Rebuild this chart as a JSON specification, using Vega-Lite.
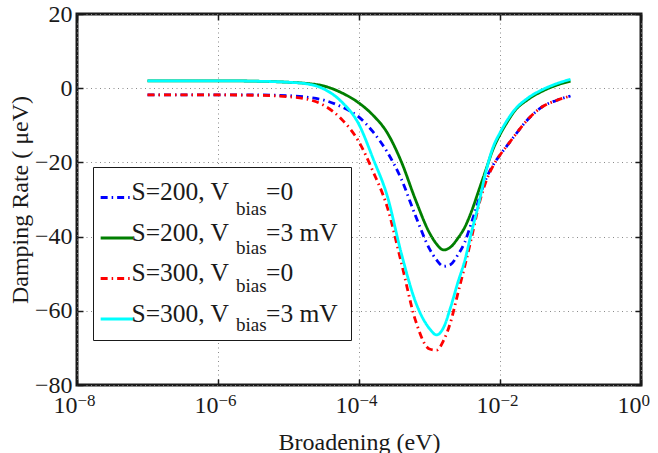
{
  "$schema": "https://vega.github.io/schema/vega-lite/v6.json",
  "width": 564,
  "height": 371,
  "autosize": {"type": "none"},
  "padding": {"left": 77, "top": 14, "right": 17, "bottom": 68},
  "background": "white",
  "data": {
    "values": [
      {"s": "S=200, Vbias=0", "x": 1e-7, "y": -1.8},
      {"s": "S=200, Vbias=0", "x": 3.162e-7, "y": -1.8},
      {"s": "S=200, Vbias=0", "x": 1e-6, "y": -1.8},
      {"s": "S=200, Vbias=0", "x": 3.162e-6, "y": -1.8},
      {"s": "S=200, Vbias=0", "x": 1e-5, "y": -2.0},
      {"s": "S=200, Vbias=0", "x": 1.778e-5, "y": -2.4},
      {"s": "S=200, Vbias=0", "x": 3.162e-5, "y": -3.2},
      {"s": "S=200, Vbias=0", "x": 5.623e-5, "y": -5.0},
      {"s": "S=200, Vbias=0", "x": 1e-4, "y": -7.8},
      {"s": "S=200, Vbias=0", "x": 1.585e-4, "y": -11.8},
      {"s": "S=200, Vbias=0", "x": 2.512e-4, "y": -17.2},
      {"s": "S=200, Vbias=0", "x": 3.981e-4, "y": -24.5},
      {"s": "S=200, Vbias=0", "x": 6.31e-4, "y": -34.3},
      {"s": "S=200, Vbias=0", "x": 1e-3, "y": -43.3},
      {"s": "S=200, Vbias=0", "x": 1.259e-3, "y": -46.3},
      {"s": "S=200, Vbias=0", "x": 1.585e-3, "y": -48.0},
      {"s": "S=200, Vbias=0", "x": 1.995e-3, "y": -47.5},
      {"s": "S=200, Vbias=0", "x": 2.512e-3, "y": -45.0},
      {"s": "S=200, Vbias=0", "x": 3.162e-3, "y": -41.5},
      {"s": "S=200, Vbias=0", "x": 3.981e-3, "y": -36.0},
      {"s": "S=200, Vbias=0", "x": 5.012e-3, "y": -30.0},
      {"s": "S=200, Vbias=0", "x": 6.31e-3, "y": -24.5},
      {"s": "S=200, Vbias=0", "x": 7.943e-3, "y": -20.8},
      {"s": "S=200, Vbias=0", "x": 1e-2, "y": -18.0},
      {"s": "S=200, Vbias=0", "x": 1.259e-2, "y": -15.5},
      {"s": "S=200, Vbias=0", "x": 1.585e-2, "y": -13.0},
      {"s": "S=200, Vbias=0", "x": 2.512e-2, "y": -8.3},
      {"s": "S=200, Vbias=0", "x": 3.981e-2, "y": -5.0},
      {"s": "S=200, Vbias=0", "x": 6.31e-2, "y": -3.3},
      {"s": "S=200, Vbias=0", "x": 0.1, "y": -2.1},

      {"s": "S=200, Vbias=3 mV", "x": 1e-7, "y": 2.0},
      {"s": "S=200, Vbias=3 mV", "x": 3.162e-7, "y": 2.0},
      {"s": "S=200, Vbias=3 mV", "x": 1e-6, "y": 2.0},
      {"s": "S=200, Vbias=3 mV", "x": 3.162e-6, "y": 1.9},
      {"s": "S=200, Vbias=3 mV", "x": 1e-5, "y": 1.6},
      {"s": "S=200, Vbias=3 mV", "x": 1.778e-5, "y": 1.3},
      {"s": "S=200, Vbias=3 mV", "x": 3.162e-5, "y": 0.6},
      {"s": "S=200, Vbias=3 mV", "x": 5.623e-5, "y": -1.2},
      {"s": "S=200, Vbias=3 mV", "x": 1e-4, "y": -4.0},
      {"s": "S=200, Vbias=3 mV", "x": 1.585e-4, "y": -7.3},
      {"s": "S=200, Vbias=3 mV", "x": 2.512e-4, "y": -12.0},
      {"s": "S=200, Vbias=3 mV", "x": 3.981e-4, "y": -19.8},
      {"s": "S=200, Vbias=3 mV", "x": 6.31e-4, "y": -30.0},
      {"s": "S=200, Vbias=3 mV", "x": 1e-3, "y": -39.0},
      {"s": "S=200, Vbias=3 mV", "x": 1.259e-3, "y": -42.0},
      {"s": "S=200, Vbias=3 mV", "x": 1.585e-3, "y": -43.6},
      {"s": "S=200, Vbias=3 mV", "x": 1.995e-3, "y": -42.8},
      {"s": "S=200, Vbias=3 mV", "x": 2.512e-3, "y": -40.5},
      {"s": "S=200, Vbias=3 mV", "x": 3.162e-3, "y": -37.5},
      {"s": "S=200, Vbias=3 mV", "x": 3.981e-3, "y": -33.0},
      {"s": "S=200, Vbias=3 mV", "x": 5.012e-3, "y": -27.5},
      {"s": "S=200, Vbias=3 mV", "x": 6.31e-3, "y": -22.0},
      {"s": "S=200, Vbias=3 mV", "x": 7.943e-3, "y": -16.5},
      {"s": "S=200, Vbias=3 mV", "x": 1e-2, "y": -12.5},
      {"s": "S=200, Vbias=3 mV", "x": 1.259e-2, "y": -9.2},
      {"s": "S=200, Vbias=3 mV", "x": 1.585e-2, "y": -6.3},
      {"s": "S=200, Vbias=3 mV", "x": 2.512e-2, "y": -3.0},
      {"s": "S=200, Vbias=3 mV", "x": 3.981e-2, "y": -0.8},
      {"s": "S=200, Vbias=3 mV", "x": 6.31e-2, "y": 0.8},
      {"s": "S=200, Vbias=3 mV", "x": 0.1, "y": 1.9},

      {"s": "S=300, Vbias=0", "x": 1e-7, "y": -1.8},
      {"s": "S=300, Vbias=0", "x": 3.162e-7, "y": -1.8},
      {"s": "S=300, Vbias=0", "x": 1e-6, "y": -1.8},
      {"s": "S=300, Vbias=0", "x": 3.162e-6, "y": -1.9},
      {"s": "S=300, Vbias=0", "x": 1e-5, "y": -2.3},
      {"s": "S=300, Vbias=0", "x": 1.778e-5, "y": -2.9},
      {"s": "S=300, Vbias=0", "x": 3.162e-5, "y": -4.6},
      {"s": "S=300, Vbias=0", "x": 5.623e-5, "y": -8.3},
      {"s": "S=300, Vbias=0", "x": 1e-4, "y": -14.5},
      {"s": "S=300, Vbias=0", "x": 1.585e-4, "y": -22.5},
      {"s": "S=300, Vbias=0", "x": 2.512e-4, "y": -32.0},
      {"s": "S=300, Vbias=0", "x": 3.981e-4, "y": -47.0},
      {"s": "S=300, Vbias=0", "x": 6.31e-4, "y": -62.5},
      {"s": "S=300, Vbias=0", "x": 1e-3, "y": -70.3},
      {"s": "S=300, Vbias=0", "x": 1.259e-3, "y": -70.6},
      {"s": "S=300, Vbias=0", "x": 1.585e-3, "y": -68.0},
      {"s": "S=300, Vbias=0", "x": 1.995e-3, "y": -63.0},
      {"s": "S=300, Vbias=0", "x": 2.512e-3, "y": -55.5},
      {"s": "S=300, Vbias=0", "x": 3.162e-3, "y": -48.0},
      {"s": "S=300, Vbias=0", "x": 3.981e-3, "y": -40.0},
      {"s": "S=300, Vbias=0", "x": 5.012e-3, "y": -31.5},
      {"s": "S=300, Vbias=0", "x": 6.31e-3, "y": -25.2},
      {"s": "S=300, Vbias=0", "x": 7.943e-3, "y": -21.0},
      {"s": "S=300, Vbias=0", "x": 1e-2, "y": -18.0},
      {"s": "S=300, Vbias=0", "x": 1.259e-2, "y": -15.5},
      {"s": "S=300, Vbias=0", "x": 1.585e-2, "y": -13.0},
      {"s": "S=300, Vbias=0", "x": 2.512e-2, "y": -8.3},
      {"s": "S=300, Vbias=0", "x": 3.981e-2, "y": -5.0},
      {"s": "S=300, Vbias=0", "x": 6.31e-2, "y": -3.3},
      {"s": "S=300, Vbias=0", "x": 0.1, "y": -2.1},

      {"s": "S=300, Vbias=3 mV", "x": 1e-7, "y": 2.0},
      {"s": "S=300, Vbias=3 mV", "x": 3.162e-7, "y": 2.0},
      {"s": "S=300, Vbias=3 mV", "x": 1e-6, "y": 2.0},
      {"s": "S=300, Vbias=3 mV", "x": 3.162e-6, "y": 1.9},
      {"s": "S=300, Vbias=3 mV", "x": 1e-5, "y": 1.6},
      {"s": "S=300, Vbias=3 mV", "x": 1.778e-5, "y": 1.2},
      {"s": "S=300, Vbias=3 mV", "x": 3.162e-5, "y": -0.2},
      {"s": "S=300, Vbias=3 mV", "x": 5.623e-5, "y": -3.6},
      {"s": "S=300, Vbias=3 mV", "x": 1e-4, "y": -9.8},
      {"s": "S=300, Vbias=3 mV", "x": 1.585e-4, "y": -19.0},
      {"s": "S=300, Vbias=3 mV", "x": 2.512e-4, "y": -29.0},
      {"s": "S=300, Vbias=3 mV", "x": 3.981e-4, "y": -44.5},
      {"s": "S=300, Vbias=3 mV", "x": 6.31e-4, "y": -57.5},
      {"s": "S=300, Vbias=3 mV", "x": 1e-3, "y": -64.8},
      {"s": "S=300, Vbias=3 mV", "x": 1.259e-3, "y": -66.5},
      {"s": "S=300, Vbias=3 mV", "x": 1.585e-3, "y": -64.5},
      {"s": "S=300, Vbias=3 mV", "x": 1.995e-3, "y": -59.0},
      {"s": "S=300, Vbias=3 mV", "x": 2.512e-3, "y": -52.5},
      {"s": "S=300, Vbias=3 mV", "x": 3.162e-3, "y": -46.5},
      {"s": "S=300, Vbias=3 mV", "x": 3.981e-3, "y": -38.5},
      {"s": "S=300, Vbias=3 mV", "x": 5.012e-3, "y": -31.0},
      {"s": "S=300, Vbias=3 mV", "x": 6.31e-3, "y": -22.5},
      {"s": "S=300, Vbias=3 mV", "x": 7.943e-3, "y": -16.0},
      {"s": "S=300, Vbias=3 mV", "x": 1e-2, "y": -12.0},
      {"s": "S=300, Vbias=3 mV", "x": 1.259e-2, "y": -8.7},
      {"s": "S=300, Vbias=3 mV", "x": 1.585e-2, "y": -6.0},
      {"s": "S=300, Vbias=3 mV", "x": 2.512e-2, "y": -2.6},
      {"s": "S=300, Vbias=3 mV", "x": 3.981e-2, "y": -0.4},
      {"s": "S=300, Vbias=3 mV", "x": 6.31e-2, "y": 1.2},
      {"s": "S=300, Vbias=3 mV", "x": 0.1, "y": 2.4}
    ]
  },
  "layer": [
    {
      "mark": {"type": "line", "strokeWidth": 2.8, "interpolate": "monotone", "clip": true},
      "encoding": {
        "x": {
          "field": "x", "type": "quantitative",
          "scale": {"type": "log", "domain": [1e-8, 1], "nice": false},
          "axis": {
            "orient": "bottom",
            "values": [1e-8, 1e-6, 1e-4, 1e-2, 1],
            "labelExpr": "'10'",
            "labelAlign": "right",
            "labelBaseline": "alphabetic",
            "labelPadding": 33,
            "labelFontSize": 24,
            "labelFlush": false,
            "labelOverlap": false,
            "tickSize": -6,
            "tickWidth": 1.5,
            "grid": true,
            "title": "Broadening (eV)",
            "titlePadding": 13,
            "encode": {"labels": {"update": {"dx": {"signal": "datum.value >= 1 ? 5 : 1"}}}}
          }
        },
        "y": {
          "field": "y", "type": "quantitative",
          "scale": {"domain": [-80, 20], "nice": false, "zero": false},
          "axis": {
            "orient": "left",
            "values": [-80, -60, -40, -20, 0, 20],
            "labelPadding": 11,
            "labelFontSize": 24,
            "labelFlush": false,
            "labelOverlap": false,
            "tickSize": -6,
            "tickWidth": 1.5,
            "grid": true,
            "title": "Damping Rate ( μeV)",
            "titlePadding": 2
          }
        },
        "color": {
          "field": "s", "type": "nominal",
          "scale": {
            "domain": ["S=200, Vbias=0", "S=200, Vbias=3 mV", "S=300, Vbias=0", "S=300, Vbias=3 mV"],
            "range": ["#0000ff", "#007f00", "#ff0000", "#00ffff"]
          },
          "legend": {
            "orient": "none", "legendX": 16, "legendY": 153, "title": null,
            "fillColor": "white", "strokeColor": "#1a1a1a", "padding": 12.5,
            "symbolType": "stroke", "symbolSize": 1069, "symbolStrokeWidth": 3,
            "symbolOffset": -6.5,
            "labelFontSize": 25.5, "labelLimit": 0, "labelBaseline": "alphabetic",
            "labelOffset": -3.5, "rowPadding": 14.5,
            "labelExpr": "replace(datum.label, 'bias', '\u00a0\u00a0\u00a0\u00a0\u00a0\u2009')",
            "encode": {"labels": {"update": {"dy": {"value": 2.5}}}}
          }
        },
        "strokeDash": {
          "field": "s", "type": "nominal",
          "scale": {
            "domain": ["S=200, Vbias=0", "S=200, Vbias=3 mV", "S=300, Vbias=0", "S=300, Vbias=3 mV"],
            "range": [[7, 4, 1.5, 4], [1, 0], [7, 4, 1.5, 4], [1, 0]]
          },
          "legend": {
            "orient": "none", "legendX": 16, "legendY": 153, "title": null,
            "fillColor": "white", "strokeColor": "#1a1a1a", "padding": 12.5,
            "symbolType": "stroke", "symbolSize": 1069, "symbolStrokeWidth": 3,
            "symbolOffset": -6.5,
            "labelFontSize": 25.5, "labelLimit": 0, "labelBaseline": "alphabetic",
            "labelOffset": -3.5, "rowPadding": 14.5,
            "labelExpr": "replace(datum.label, 'bias', '\u00a0\u00a0\u00a0\u00a0\u00a0\u2009')",
            "encode": {"labels": {"update": {"dy": {"value": 2.5}}}}
          }
        },
        "opacity": {
          "field": "s", "type": "nominal",
          "scale": {
            "domain": ["S=300, Vbias=3 mV", "S=300, Vbias=0", "S=200, Vbias=3 mV", "S=200, Vbias=0"],
            "range": [1, 1, 1, 1]
          },
          "legend": {
            "orient": "none", "legendX": 123, "legendY": 183.2, "title": null,
            "padding": 0, "symbolType": "stroke", "symbolSize": 1069, "symbolStrokeWidth": 3,
            "symbolStrokeColor": "rgba(0,0,0,0)", "symbolFillColor": "rgba(0,0,0,0)",
            "labelFontSize": 19, "labelLimit": 0,
            "labelBaseline": "alphabetic", "labelOffset": 0, "rowPadding": 14.5,
            "labelExpr": "'bias'"
          }
        }
      }
    },
    {
      "mark": {"type": "line", "opacity": 0},
      "encoding": {
        "x": {
          "field": "x", "type": "quantitative",
          "axis": {
            "orient": "bottom",
            "values": [1e-8, 1e-6, 1e-4, 1e-2, 1],
            "labelExpr": "datum.value >= 1 ? '0' : '\u2212' + round(-log(datum.value) / LN10)",
            "labelAlign": "left",
            "labelBaseline": "alphabetic",
            "labelPadding": 20,
            "labelFontSize": 17,
            "labelFlush": false,
            "labelOverlap": false,
            "ticks": false,
            "grid": false,
            "title": null,
            "encode": {"labels": {"update": {"dx": {"signal": "datum.value >= 1 ? 5 : 1"}}}}
          }
        },
        "y": {
          "field": "y", "type": "quantitative",
          "axis": {
            "orient": "right",
            "values": [-80, -60, -40, -20, 0, 20],
            "labels": false,
            "tickSize": -6,
            "tickWidth": 1.5,
            "grid": false,
            "title": null
          }
        }
      }
    },
    {
      "mark": {"type": "line", "opacity": 0},
      "encoding": {
        "x": {
          "field": "x", "type": "quantitative",
          "axis": {
            "orient": "top",
            "values": [1e-8, 1e-6, 1e-4, 1e-2, 1],
            "labels": false,
            "tickSize": -6,
            "tickWidth": 1.5,
            "grid": false,
            "title": null
          }
        },
        "y": {"field": "y", "type": "quantitative", "axis": null}
      }
    }
  ],
  "resolve": {"axis": {"x": "independent", "y": "independent"}},
  "config": {
    "view": {"stroke": "#1a1a1a", "strokeWidth": 3},
    "axis": {
      "domain": false,
      "labelFont": "Liberation Serif",
      "titleFont": "Liberation Serif",
      "labelColor": "#1a1a1a",
      "titleColor": "#1a1a1a",
      "titleFontWeight": "normal",
      "titleFontSize": 24,
      "tickColor": "#1a1a1a",
      "gridColor": "#8a8a8a",
      "gridDash": [1, 3.5],
      "gridWidth": 1,
      "gridOpacity": 1
    },
    "legend": {
      "labelFont": "Liberation Serif",
      "labelColor": "#1a1a1a"
    }
  }
}
